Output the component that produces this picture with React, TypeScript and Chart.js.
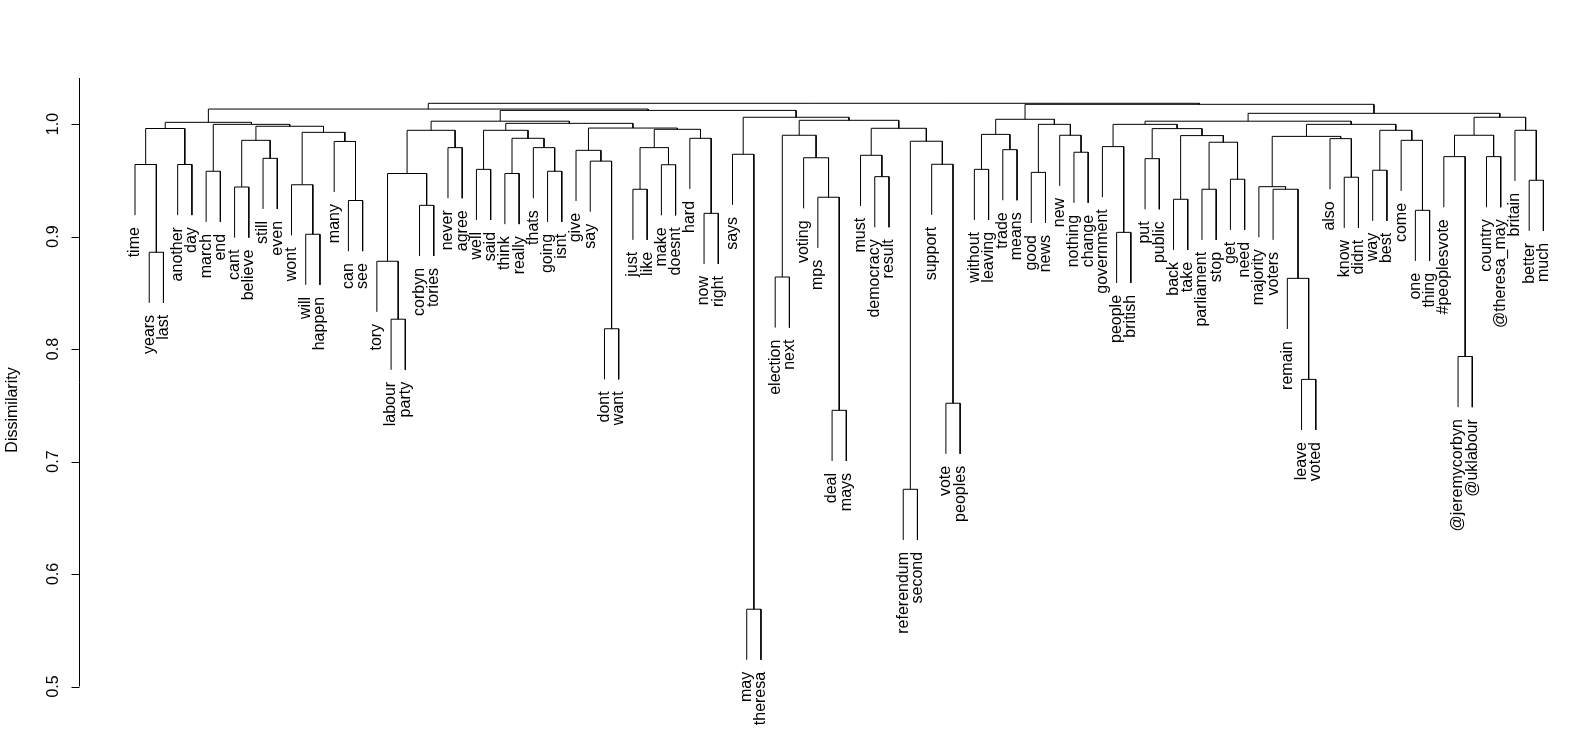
import React, { useEffect, useRef } from "react";
import { Chart, registerables } from "chart.js";
Chart.register(...registerables);

// Leaf labels, left to right
const leaves: string[] = [
  "time", "years", "last", "another", "day", "march", "end", "cant", "believe", "still",
  "even", "wont", "will", "happen", "many", "can", "see", "tory", "labour", "party",
  "corbyn", "tories", "never", "agree", "well", "said", "think", "really", "thats", "going",
  "isnt", "give", "say", "dont", "want", "just", "like", "make", "doesnt", "hard",
  "now", "right", "says", "may", "theresa", "election", "next", "voting", "mps", "deal",
  "mays", "must", "democracy", "result", "referendum", "second", "support", "vote", "peoples", "without",
  "leaving", "trade", "means", "good", "news", "new", "nothing", "change", "government", "people",
  "british", "put", "public", "back", "take", "parliament", "stop", "get", "need", "majority",
  "voters", "remain", "leave", "voted", "also", "know", "didnt", "way", "best", "come",
  "one", "thing", "#peoplesvote", "@jeremycorbyn", "@uklabour", "country", "@theresa_may", "britain", "better", "much",
];

// Merge list: [left child, right child, height]; strings are leaves, numbers are earlier merges
const merges: [string | number, string | number, number][] = [
  ["years", "last", 0.886], // 0
  ["time", 0, 0.964],
  ["another", "day", 0.964],
  [1, 2, 0.996],
  ["march", "end", 0.958],
  ["cant", "believe", 0.944], // 5
  ["still", "even", 0.9695],
  [5, 6, 0.9855],
  ["will", "happen", 0.902],
  ["wont", 8, 0.946],
  ["can", "see", 0.932], // 10
  ["many", 10, 0.9845],
  [9, 11, 0.9926],
  [7, 12, 0.998],
  [4, 13, 0.9997],
  [3, 14, 1.0015], // 15
  ["labour", "party", 0.8265],
  ["tory", 16, 0.878],
  ["corbyn", "tories", 0.9277],
  [17, 18, 0.956],
  ["never", "agree", 0.979], // 20
  [19, 20, 0.9944],
  ["well", "said", 0.9597],
  ["think", "really", 0.956],
  ["going", "isnt", 0.958],
  ["thats", 24, 0.979], // 25
  [23, 25, 0.9873],
  [22, 26, 0.9944],
  ["dont", "want", 0.818],
  ["say", 28, 0.967],
  ["give", 29, 0.9766], // 30
  ["just", "like", 0.942],
  ["make", "doesnt", 0.9638],
  [31, 32, 0.979],
  ["now", "right", 0.9206],
  ["hard", 34, 0.9873], // 35
  [33, 35, 0.9953],
  [30, 36, 0.9964],
  [27, 37, 1.0006],
  [21, 38, 1.0025],
  ["may", "theresa", 0.5687], // 40
  ["says", 40, 0.9731],
  ["election", "next", 0.864],
  ["deal", "mays", 0.7455],
  ["mps", 43, 0.9349],
  ["voting", 44, 0.97], // 45
  [42, 45, 0.99],
  ["democracy", "result", 0.9532],
  ["must", 47, 0.9722],
  ["referendum", "second", 0.6753],
  ["vote", "peoples", 0.7518], // 50
  ["support", 50, 0.9642],
  [49, 51, 0.9847],
  [48, 52, 0.9962],
  [46, 53, 1.0033],
  [41, 54, 1.006], // 55
  [39, 55, 1.0121],
  [15, 56, 1.0133],
  ["without", "leaving", 0.9597],
  ["trade", "means", 0.9772],
  [58, 59, 0.9908], // 60
  ["good", "news", 0.957],
  ["nothing", "change", 0.9749],
  ["new", 62, 0.99],
  [61, 63, 0.9997],
  [60, 64, 1.0042], // 65
  ["people", "british", 0.9037],
  ["government", 66, 0.9799],
  ["put", "public", 0.9692],
  ["back", "take", 0.9331],
  ["parliament", "stop", 0.942], // 70
  ["get", "need", 0.9509],
  [70, 71, 0.9838],
  [69, 72, 0.9897],
  [68, 73, 0.9959],
  [67, 74, 0.9997], // 75
  ["leave", "voted", 0.773],
  ["remain", 76, 0.8628],
  ["voters", 77, 0.942],
  ["majority", 78, 0.9443],
  ["know", "didnt", 0.9527], // 80
  ["also", 80, 0.987],
  [79, 81, 0.989],
  ["way", "best", 0.9589],
  ["one", "thing", 0.9233],
  ["come", 84, 0.9855], // 85
  [83, 85, 0.9944],
  [82, 86, 0.9997],
  [75, 87, 1.0025],
  ["@jeremycorbyn", "@uklabour", 0.7933],
  ["#peoplesvote", 89, 0.971], // 90
  ["country", "@theresa_may", 0.971],
  [90, 91, 0.99],
  ["better", "much", 0.95],
  ["britain", 93, 0.9944],
  [92, 94, 1.006], // 95
  [88, 95, 1.0095],
  [65, 96, 1.0175],
  [57, 97, 1.0184],
];

const hang = 0.045;
const yTicks: number[] = [0.5, 0.6, 0.7, 0.8, 0.9, 1.0];
const yTickLabels: string[] = ["0.5", "0.6", "0.7", "0.8", "0.9", "1.0"];
const yTitle = "Dissimilarity";

type Pt = { x: number; y: number };

function buildTree() {
  const leafPos = new Map<string, number>();
  leaves.forEach((l, i) => leafPos.set(l, i + 1));
  const nodeX: number[] = [];
  const nodeH: number[] = [];
  const leafBottom = new Map<string, number>();
  const segs: Pt[][] = [];
  merges.forEach(([a, b, h], i) => {
    const info = (c: string | number): Pt => {
      if (typeof c === "number") return { x: nodeX[c], y: nodeH[c] };
      leafBottom.set(c, h - hang);
      return { x: leafPos.get(c) as number, y: h - hang };
    };
    const A = info(a);
    const B = info(b);
    nodeX[i] = (A.x + B.x) / 2;
    nodeH[i] = h;
    segs.push([
      { x: A.x, y: A.y },
      { x: A.x, y: h },
      { x: B.x, y: h },
      { x: B.x, y: B.y },
    ]);
  });
  return { leafPos, leafBottom, segs };
}

const FONT = '16px "Liberation Sans", Arial, sans-serif';

export default function App() {
  const ref = useRef<HTMLCanvasElement | null>(null);
  useEffect(() => {
    if (!ref.current) return;
    const { leafPos, leafBottom, segs } = buildTree();
    const overlay = {
      id: "dendroText",
      afterDraw(chart: any) {
        const ctx = chart.ctx as CanvasRenderingContext2D;
        const xs = chart.scales.x;
        const ys = chart.scales.y;
        const area = chart.chartArea;
        ctx.save();
        ctx.fillStyle = "#000";
        ctx.strokeStyle = "#000";
        ctx.lineWidth = 1;
        ctx.font = FONT;
        // leaf labels
        leaves.forEach((l) => {
          const px = xs.getPixelForValue(leafPos.get(l) as number);
          const py = ys.getPixelForValue(leafBottom.get(l) as number);
          ctx.save();
          ctx.translate(px, py + 12);
          ctx.rotate(-Math.PI / 2);
          ctx.textAlign = "right";
          ctx.textBaseline = "middle";
          ctx.fillText(l, 0, 0);
          ctx.restore();
        });
        // y axis
        const axX = Math.round(area.left) + 0.5;
        ctx.beginPath();
        ctx.moveTo(axX, area.top);
        ctx.lineTo(axX, ys.getPixelForValue(yTicks[0]));
        yTicks.forEach((t) => {
          const py = Math.round(ys.getPixelForValue(t)) + 0.5;
          ctx.moveTo(axX, py);
          ctx.lineTo(axX - 8, py);
        });
        ctx.stroke();
        yTicks.forEach((t, i) => {
          const py = ys.getPixelForValue(t);
          ctx.save();
          ctx.translate(axX - 22, py);
          ctx.rotate(-Math.PI / 2);
          ctx.textAlign = "center";
          ctx.textBaseline = "alphabetic";
          ctx.fillText(yTickLabels[i], 0, 0);
          ctx.restore();
        });
        ctx.save();
        ctx.translate(17, 410);
        ctx.rotate(-Math.PI / 2);
        ctx.textAlign = "center";
        ctx.textBaseline = "alphabetic";
        ctx.fillText(yTitle, 0, 0);
        ctx.restore();
        ctx.restore();
      },
    };
    const chart = new Chart(ref.current, {
      type: "line",
      data: {
        datasets: segs.map((pts) => ({
          data: pts,
          borderColor: "#000",
          borderWidth: 1,
          pointRadius: 0,
          fill: false,
          tension: 0,
        })),
      },
      options: {
        animation: false,
        responsive: false,
        devicePixelRatio: 1,
        events: [],
        layout: { padding: { left: 78.6, top: 78, right: 7, bottom: 68.5 } },
        plugins: { legend: { display: false }, tooltip: { enabled: false } },
        scales: {
          x: { type: "linear", min: -2.965, max: 101.518, display: false },
          y: { type: "linear", min: 0.5, max: 1.0409, display: false },
        },
      },
      plugins: [overlay],
    } as any);
    return () => chart.destroy();
  }, []);
  return (
    <div style={{ position: "absolute", left: 0, top: 0, width: 1572, height: 755, background: "#fff" }}>
      <canvas ref={ref} width={1572} height={755} style={{ display: "block" }} />
    </div>
  );
}
